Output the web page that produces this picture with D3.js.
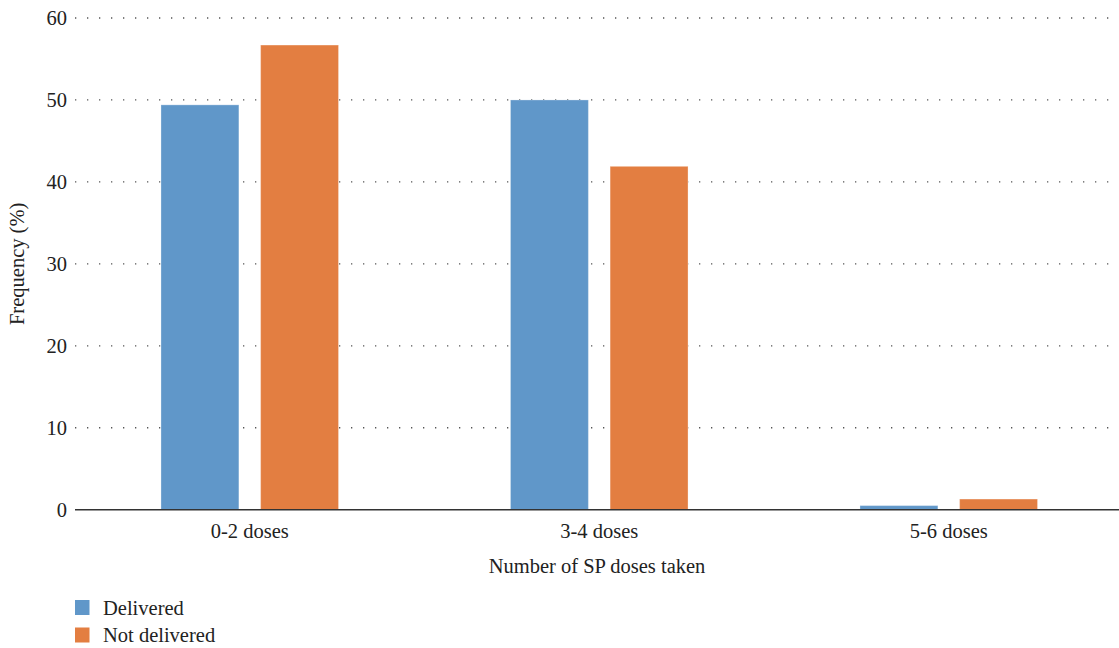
<!DOCTYPE html>
<html>
<head>
<meta charset="utf-8">
<script src="https://cdn.jsdelivr.net/npm/d3@7/dist/d3.min.js"></script>
<style>
  html, body { margin: 0; padding: 0; background: #fff; }
  svg { display: block; }
  text { font-family: "Liberation Serif", "DejaVu Serif", serif; fill: #222; }
</style>
</head>
<body>
<div id="chart"></div>
<script>
"use strict";

// --- data ---
const categories = ["0-2 doses", "3-4 doses", "5-6 doses"];
const seriesNames = ["Delivered", "Not delivered"];
const delivered = [49.4, 50.0, 0.5];
const notDelivered = [56.7, 41.9, 1.3];
const yTicks = [0, 10, 20, 30, 40, 50, 60];

const colors = { "Delivered": "#6097c9", "Not delivered": "#e37e41" };
const W = 1119, H = 648;
const FS = "20.5px";
const left = 75;

const svg = d3.select("#chart").append("svg").attr("width", W).attr("height", H);

const x = d3.scaleBand().domain(categories).range([75, 1123.5]).paddingInner(0.492).paddingOuter(0.246);
const xs = d3.scaleBand().domain(seriesNames).range([0, x.bandwidth()]).paddingInner(0.218);
const y = d3.scaleLinear().domain([0, 60]).range([509.7, 18]);

const rows = categories.map((c, i) => ({ cat: c, values: [delivered[i], notDelivered[i]] }));

// gridlines (dotted)
svg.append("g").selectAll("line")
    .data(yTicks.filter(t => t > 0))
    .enter().append("line")
    .attr("x1", left).attr("x2", W)
    .attr("y1", d => y(d)).attr("y2", d => y(d))
    .attr("stroke", "#555").attr("stroke-width", 1.3)
    .attr("stroke-dasharray", "1.3 10.7");

// bars
const groups = svg.append("g").selectAll("g")
    .data(rows).enter().append("g")
    .attr("transform", d => `translate(${x(d.cat)},0)`);

groups.selectAll("rect")
    .data(d => d.values.map((v, i) => ({ name: seriesNames[i], v })))
    .enter().append("rect")
    .attr("x", d => xs(d.name))
    .attr("width", xs.bandwidth())
    .attr("y", d => y(d.v))
    .attr("height", d => y(0) - y(d.v))
    .attr("fill", d => colors[d.name])
    .attr("stroke", "#fff").attr("stroke-opacity", 0.3).attr("stroke-width", 1);

// y axis labels
const yAxis = svg.append("g").attr("transform", `translate(${left},0)`)
    .call(d3.axisLeft(y).tickValues(yTicks).tickSize(0).tickPadding(8));
yAxis.select(".domain").remove();
yAxis.selectAll("text").style("font-size", FS).style("font-family", "Liberation Serif, serif").attr("fill", "#222");

// x axis
const xAxis = svg.append("g").attr("transform", `translate(0,${y(0)})`)
    .call(d3.axisBottom(x).tickSize(0).tickPadding(14));
xAxis.select(".domain").remove();
xAxis.selectAll("text").style("font-size", FS).style("font-family", "Liberation Serif, serif").attr("fill", "#222");

svg.append("line")
    .attr("x1", left).attr("x2", W)
    .attr("y1", y(0)).attr("y2", y(0))
    .attr("stroke", "#333").attr("stroke-width", 1.5);

// axis titles
svg.append("text")
    .attr("transform", `translate(24,${(y(0) + y(60)) / 2}) rotate(-90)`)
    .attr("text-anchor", "middle").style("font-size", FS)
    .text("Frequency (%)");

svg.append("text")
    .attr("x", 597).attr("y", 573)
    .attr("text-anchor", "middle").style("font-size", FS)
    .text("Number of SP doses taken");

// legend
const legend = svg.append("g").attr("transform", "translate(75,600)");
const li = legend.selectAll("g").data(seriesNames).enter().append("g")
    .attr("transform", (d, i) => `translate(0,${i * 27.5})`);
li.append("rect").attr("width", 14.5).attr("height", 15).attr("fill", d => colors[d]);
li.append("text").attr("x", 28).attr("y", 14.5).style("font-size", FS).text(d => d);
</script>
</body>
</html>
